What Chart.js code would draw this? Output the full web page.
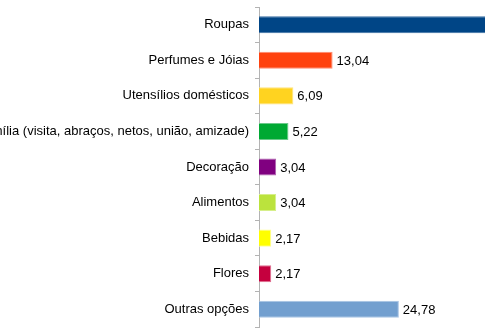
<!DOCTYPE html>
<html>
<head>
<meta charset="utf-8">
<script src="https://cdn.jsdelivr.net/npm/chart.js@4"></script>
<style>
  html, body { margin: 0; padding: 0; background: #fff; }
  #wrap { position: relative; width: 485px; height: 334px; overflow: hidden; }
  #box { position: absolute; left: -40px; top: 0; width: 553px; height: 334px; }
</style>
</head>
<body>
<div id="wrap"><div id="box"><canvas id="giftChart"></canvas></div></div>
<script>
// ------------------------------------------------------
// DATA
// ------------------------------------------------------
const categories = [
  'Roupas',
  'Perfumes e Jóias',
  'Utensílios domésticos',
  'Família (visita, abraços, netos, união, amizade)',
  'Decoração',
  'Alimentos',
  'Bebidas',
  'Flores',
  'Outras opções'
];
const percentages = [40.45, 13.04, 6.09, 5.22, 3.04, 3.04, 2.17, 2.17, 24.78];
const barColors = ['#004586', '#ff420e', '#ffd320', '#00a933', '#800080', '#bbe33d', '#ffff00', '#c5003e', '#729fcf'];
const barEdges = ['#3a6fa3', '#ff8a70', '#ffe27a', '#6cc98a', '#b060b0', '#d6ef8a', '#ffff90', '#e07090', '#a8c4e4'];

const AXIS_X = 299; // left edge of plot area inside the canvas

// value labels at the end of each bar, comma decimal
const valueLabels = {
  id: 'valueLabels',
  afterDatasetsDraw(chart) {
    const ctx = chart.ctx;
    const meta = chart.getDatasetMeta(0);
    ctx.save();
    ctx.font = '13px "Liberation Sans", Arial, sans-serif';
    ctx.fillStyle = '#000';
    ctx.textAlign = 'left';
    ctx.textBaseline = 'middle';
    meta.data.forEach((bar, i) => {
      const txt = percentages[i].toFixed(2).replace('.', ',');
      ctx.fillText(txt, bar.x + 4, bar.y + 1);
    });
    ctx.restore();
  }
};

new Chart(document.getElementById('giftChart'), {
  type: 'bar',
  data: {
    labels: categories,
    datasets: [{
      data: percentages,
      backgroundColor: barColors,
      borderColor: barEdges,
      borderWidth: 1,
      borderSkipped: 'left',
      categoryPercentage: 0.48,
      barPercentage: 1.0
    }]
  },
  options: {
    indexAxis: 'y',
    responsive: true,
    maintainAspectRatio: false,
    animation: false,
    layout: { padding: { top: 7, bottom: 7, left: 0, right: 0 } },
    plugins: {
      legend: { display: false },
      tooltip: { enabled: false }
    },
    scales: {
      x: {
        display: false,
        min: 0,
        max: 45
      },
      y: {
        afterFit(scale) {
          scale.width = AXIS_X;
          // labels sit in band centres, no extra room needed above/below
          scale.paddingTop = 0;
          scale.paddingBottom = 0;
        },
        border: { display: true, color: '#b3b3b3', width: 1 },
        grid: {
          offset: true,
          drawOnChartArea: false,
          drawTicks: true,
          tickLength: 4,
          color: '#b3b3b3'
        },
        ticks: {
          color: '#000',
          padding: 6,
          autoSkip: false,
          font: { family: '"Liberation Sans", Arial, sans-serif', size: 13 }
        }
      }
    }
  },
  plugins: [valueLabels]
});
</script>
</body>
</html>
